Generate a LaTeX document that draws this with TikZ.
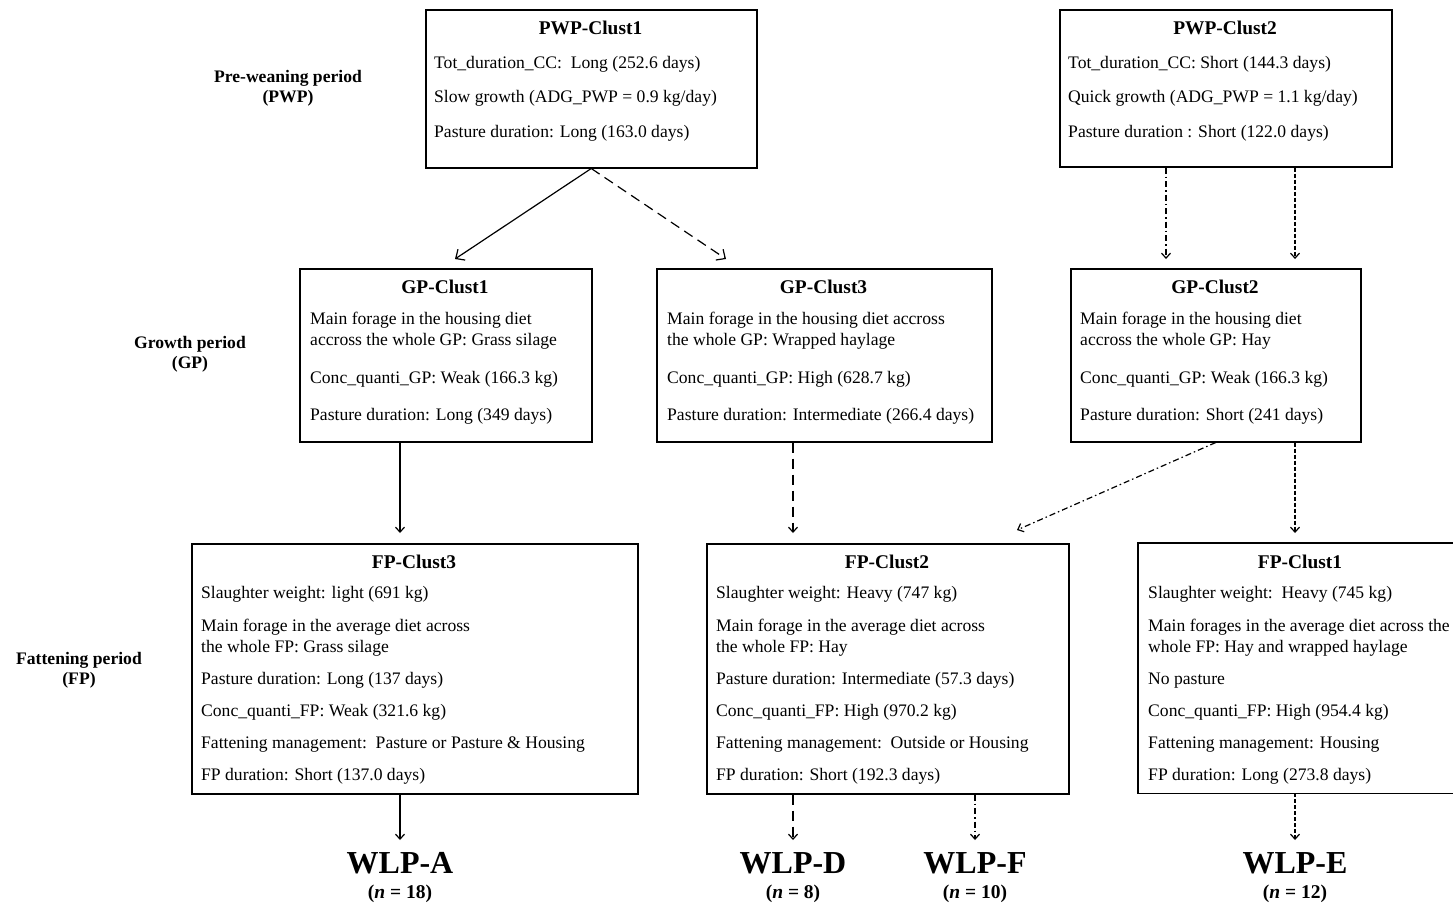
\documentclass[tikz,border=0pt]{standalone}
\usepackage{fontspec}
\setmainfont{Liberation Serif}
\usetikzlibrary{arrows.meta}
\begin{document}
\begin{tikzpicture}[x=1pt,y=-1pt,
  box/.style={draw, line width=1.5pt, rectangle, inner sep=0pt, anchor=north west},
  openbox/.style={rectangle, inner sep=0pt, anchor=north west},
  txt/.style={anchor=base west, inner sep=0pt, font=\fontsize{17.6}{21}\selectfont},
  ttl/.style={anchor=base, inner sep=0pt, font=\fontsize{19.4}{23}\selectfont\bfseries},
  lbl/.style={align=center, inner sep=0pt, font=\fontsize{17.6}{20}\selectfont\bfseries},
  wlp/.style={anchor=base, inner sep=0pt, font=\fontsize{32}{36}\selectfont\bfseries},
  nlab/.style={anchor=base, inner sep=0pt, font=\fontsize{19.5}{22}\selectfont\bfseries},
  conn/.style={line width=1.2pt, -{Straight Barb[length=5pt,width=9pt]}},
  bigconn/.style={line width=1.2pt, -{Straight Barb[length=7pt,width=13pt]}},
  dsh/.style={dash pattern=on 10pt off 6pt},
  dshdot/.style={dash pattern=on 6pt off 3pt on 1.5pt off 3pt},
  dens/.style={dash pattern=on 4pt off 2pt}
]
\useasboundingbox (0,0) rectangle (1453,906);

% ---------- left period labels
\node[lbl] (lpwp) at (288,88) {Pre-weaning period\\(PWP)};
\node[lbl] (lgp) at (190,354) {Growth period\\(GP)};
\node[lbl] (lfp) at (79,670) {Fattening period\\(FP)};

% ---------- boxes
\node[box, minimum width=331pt, minimum height=158pt] (pwp1) at (425,9) {};
\node[box, minimum width=332pt, minimum height=157pt] (pwp2) at (1059,9) {};
\node[box, minimum width=292pt, minimum height=173pt] (gp1) at (299,268) {};
\node[box, minimum width=335pt, minimum height=173pt] (gp3) at (656,268) {};
\node[box, minimum width=290pt, minimum height=173pt] (gp2) at (1070,268) {};
\node[box, minimum width=446pt, minimum height=250pt] (fp3) at (191,543) {};
\node[box, minimum width=362pt, minimum height=250pt] (fp2) at (706,543) {};
\node[openbox, minimum width=317pt, minimum height=250pt] (fp1) at (1138,543) {};
\draw[line width=1.5pt] (fp1.north east) -- (fp1.north west) -- (fp1.south west) -- (fp1.south east);

% ---------- PWP-Clust1
\node[ttl] (p1t) at (590.5,34) {PWP-Clust1};
\node[txt] (p1a) at (434,68) {Tot\_duration\_CC:\ \ Long (252.6 days)};
\node[txt] (p1b) at (434,102) {Slow growth (ADG\_PWP = 0.9 kg/day)};
\node[txt] (p1c) at (434,137) {Pasture duration: Long (163.0 days)};

% ---------- PWP-Clust2
\node[ttl] (p2t) at (1225,34) {PWP-Clust2};
\node[txt] (p2a) at (1068,68) {Tot\_duration\_CC: Short (144.3 days)};
\node[txt] (p2b) at (1068,102) {Quick growth (ADG\_PWP = 1.1 kg/day)};
\node[txt] (p2c) at (1068,137) {Pasture duration : Short (122.0 days)};

% ---------- GP-Clust1
\node[ttl] (g1t) at (445,293) {GP-Clust1};
\node[txt] (g1a) at (310,324) {Main forage in the housing diet};
\node[txt] (g1b) at (310,345) {accross the whole GP: Grass silage};
\node[txt] (g1c) at (310,383) {Conc\_quanti\_GP: Weak (166.3 kg)};
\node[txt] (g1d) at (310,420) {Pasture duration: Long (349 days)};

% ---------- GP-Clust3
\node[ttl] (g3t) at (823.5,293) {GP-Clust3};
\node[txt] (g3a) at (667,324) {Main forage in the housing diet accross};
\node[txt] (g3b) at (667,345) {the whole GP: Wrapped haylage};
\node[txt] (g3c) at (667,383) {Conc\_quanti\_GP: High (628.7 kg)};
\node[txt] (g3d) at (667,420) {Pasture duration: Intermediate (266.4 days)};

% ---------- GP-Clust2
\node[ttl] (g2t) at (1215,293) {GP-Clust2};
\node[txt] (g2a) at (1080,324) {Main forage in the housing diet};
\node[txt] (g2b) at (1080,345) {accross the whole GP: Hay};
\node[txt] (g2c) at (1080,383) {Conc\_quanti\_GP: Weak (166.3 kg)};
\node[txt] (g2d) at (1080,420) {Pasture duration: Short (241 days)};

% ---------- FP-Clust3
\node[ttl] (f3t) at (414,568) {FP-Clust3};
\node[txt] (f3a) at (201,598) {Slaughter weight: light (691 kg)};
\node[txt] (f3b) at (201,631) {Main forage in the average diet across};
\node[txt] (f3c) at (201,652) {the whole FP: Grass silage};
\node[txt] (f3d) at (201,684) {Pasture duration: Long (137 days)};
\node[txt] (f3e) at (201,716) {Conc\_quanti\_FP: Weak (321.6 kg)};
\node[txt] (f3f) at (201,748) {Fattening management:\ \ Pasture or Pasture \& Housing};
\node[txt] (f3g) at (201,780) {FP duration: Short (137.0 days)};

% ---------- FP-Clust2
\node[ttl] (f2t) at (887,568) {FP-Clust2};
\node[txt] (f2a) at (716,598) {Slaughter weight: Heavy (747 kg)};
\node[txt] (f2b) at (716,631) {Main forage in the average diet across};
\node[txt] (f2c) at (716,652) {the whole FP: Hay};
\node[txt] (f2d) at (716,684) {Pasture duration: Intermediate (57.3 days)};
\node[txt] (f2e) at (716,716) {Conc\_quanti\_FP: High (970.2 kg)};
\node[txt] (f2f) at (716,748) {Fattening management:\ \ Outside or Housing};
\node[txt] (f2g) at (716,780) {FP duration: Short (192.3 days)};

% ---------- FP-Clust1
\node[ttl] (f1t) at (1300,568) {FP-Clust1};
\node[txt] (f1a) at (1148,598) {Slaughter weight:\ \ Heavy (745 kg)};
\node[txt] (f1b) at (1148,631) {Main forages in the average diet across the};
\node[txt] (f1c) at (1148,652) {whole FP: Hay and wrapped haylage};
\node[txt] (f1d) at (1148,684) {No pasture};
\node[txt] (f1e) at (1148,716) {Conc\_quanti\_FP: High (954.4 kg)};
\node[txt] (f1f) at (1148,748) {Fattening management: Housing};
\node[txt] (f1g) at (1148,780) {FP duration: Long (273.8 days)};

% ---------- outcome labels
\node[wlp] (wA) at (400,873) {WLP-A};
\node[nlab] (nA) at (400,898) {(\textit{n} = 18)};
\node[wlp] (wD) at (793,873) {WLP-D};
\node[nlab] (nD) at (793,898) {(\textit{n} = 8)};
\node[wlp] (wF) at (975,873) {WLP-F};
\node[nlab] (nF) at (975,898) {(\textit{n} = 10)};
\node[wlp] (wE) at (1295,873) {WLP-E};
\node[nlab] (nE) at (1295,898) {(\textit{n} = 12)};

% ---------- free ends of connectors
\coordinate (e1) at (455,259);
\coordinate (e2) at (726,259);
\coordinate (e3) at (1166,259);
\coordinate (e4) at (1295,259);
\coordinate (e5) at (400,533);
\coordinate (e6) at (793,533);
\coordinate (e7) at (1017,530);
\coordinate (e8) at (1295,533);
\coordinate (e9) at (400,840);
\coordinate (e10) at (793,840);
\coordinate (e11) at (975,840);
\coordinate (e12) at (1295,840);

% ---------- connectors
\draw[bigconn] (pwp1.south) -- (e1);
\draw[bigconn, dsh] (pwp1.south) -- (e2);
\draw[conn, dshdot] (pwp2.south -| e3) -- (e3);
\draw[conn, dens] (pwp2.south -| e4) -- (e4);
\draw[conn] (gp1.south -| e5) -- (e5);
\draw[conn, dsh] (gp3.south -| e6) -- (e6);
\draw[conn, dshdot] (gp2.south) -- (e7);
\draw[conn, dens] (gp2.south -| e8) -- (e8);
\draw[conn] (fp3.south -| e9) -- (e9);
\draw[conn, dsh] (fp2.south -| e10) -- (e10);
\draw[conn, dshdot] (fp2.south -| e11) -- (e11);
\draw[conn, dens] (fp1.south -| e12) -- (e12);
\end{tikzpicture}
\end{document}
